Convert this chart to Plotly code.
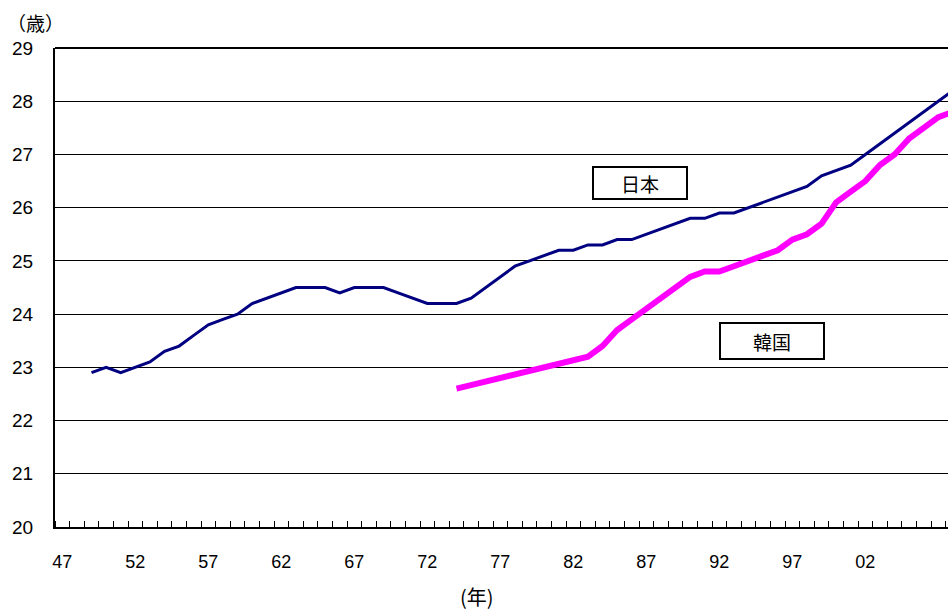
import plotly.graph_objects as go

# Mean age at first marriage (women), Japan vs. Korea
years_jp = list(range(1949, 2009))
age_jp = [22.9, 23.0, 22.9, 23.0, 23.1, 23.3, 23.4, 23.6, 23.8, 23.9,
          24.0, 24.2, 24.3, 24.4, 24.5, 24.5, 24.5, 24.4, 24.5, 24.5,
          24.5, 24.4, 24.3, 24.2, 24.2, 24.2, 24.3, 24.5, 24.7, 24.9,
          25.0, 25.1, 25.2, 25.2, 25.3, 25.3, 25.4, 25.4, 25.5, 25.6,
          25.7, 25.8, 25.8, 25.9, 25.9, 26.0, 26.1, 26.2, 26.3, 26.4,
          26.6, 26.7, 26.8, 27.0, 27.2, 27.4, 27.6, 27.8, 28.0, 28.2]

years_kr = list(range(1974, 2009))
age_kr = [22.6, None, None, None, None, None, None, None, None,
          23.2, 23.4, 23.7, 23.9, 24.1, 24.3, 24.5, 24.7, 24.8, 24.8,
          24.9, 25.0, 25.1, 25.2, 25.4, 25.5, 25.7, 26.1, 26.3, 26.5,
          26.8, 27.0, 27.3, 27.5, 27.7, 27.8]

tick_years = [1947, 1952, 1957, 1962, 1967, 1972, 1977, 1982, 1987, 1992, 1997, 2002]
tick_text = ["47", "52", "57", "62", "67", "72", "77", "82", "87", "92", "97", "02"]
y_ticks = list(range(20, 30))

FONT = "Liberation Sans, Arial, Noto Sans CJK JP, sans-serif"
CJK = "Noto Sans CJK JP, sans-serif"

fig = go.Figure()
fig.add_trace(go.Scatter(x=years_jp, y=age_jp, mode="lines", name="日本",
                         line=dict(color="#000080", width=3)))
fig.add_trace(go.Scatter(x=years_kr, y=age_kr, mode="lines", name="韓国",
                         connectgaps=True,
                         line=dict(color="#FF00FF", width=6)))

fig.update_layout(
    width=948, height=610,
    margin=dict(l=55, r=0, t=48, b=83),
    paper_bgcolor="white", plot_bgcolor="white",
    showlegend=False,
    font=dict(family=FONT, size=19, color="black"),
)

fig.update_xaxes(
    range=[1946.5, 2007.66],
    tickvals=tick_years, ticktext=tick_text,
    ticks="", ticklabelstandoff=17,
    showgrid=False, zeroline=False,
    showline=True, linecolor="black", linewidth=2,
    minor=dict(tick0=1946.5, dtick=1, ticks="inside", ticklen=6,
               tickcolor="black", tickwidth=1, showgrid=False),
    tickfont=dict(family=FONT, size=18),
)
fig.update_yaxes(
    range=[20, 29],
    tickvals=y_ticks, ticks="", ticklabelstandoff=16,
    showgrid=True, gridcolor="black", gridwidth=1,
    zeroline=False,
    showline=True, linecolor="black", linewidth=2,
    tickfont=dict(family=FONT, size=19),
)

# top border of the plotting area
fig.add_shape(type="line", xref="paper", yref="paper", x0=0, x1=1, y0=1, y1=1,
              line=dict(color="black", width=2))

# series labels in boxes
fig.add_annotation(text="日本", xref="paper", yref="paper", x=0.655, y=0.719,
                   xanchor="center", yanchor="middle",
                   showarrow=False, font=dict(family=CJK, size=19),
                   width=92, height=30, borderwidth=2, borderpad=0,
                   bordercolor="black", bgcolor="white")
fig.add_annotation(text="韓国", xref="paper", yref="paper", x=0.803, y=0.388,
                   xanchor="center", yanchor="middle",
                   showarrow=False, font=dict(family=CJK, size=19),
                   width=102, height=34, borderwidth=2, borderpad=0,
                   bordercolor="black", bgcolor="white")

# axis unit captions
fig.add_annotation(text="（歳）", xref="paper", yref="paper",
                   x=-50 / 893, y=1 + 25 / 479, xanchor="left", yanchor="middle",
                   showarrow=False, font=dict(family=CJK, size=19))
fig.add_annotation(text="(年)", xref="paper", yref="paper",
                   x=(477 - 55) / 893, y=-(596 - 527) / 479, xanchor="center",
                   yanchor="middle", showarrow=False, font=dict(family=CJK, size=20))

fig.write_html("out.html")
